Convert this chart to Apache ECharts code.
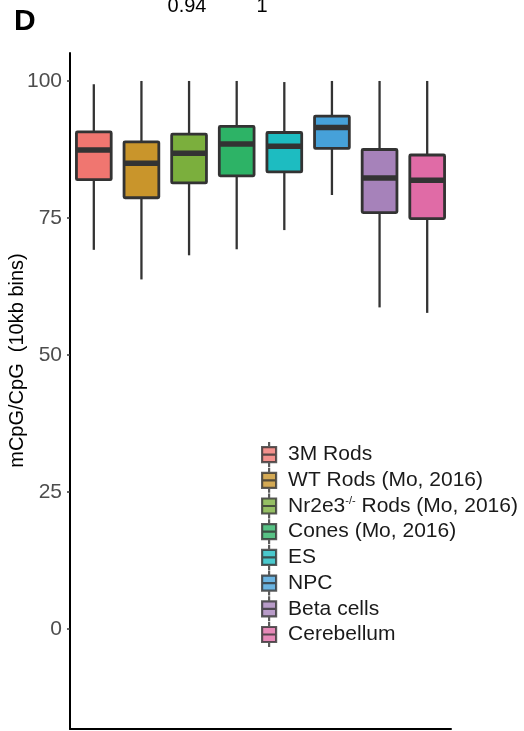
<!DOCTYPE html>
<html>
<head>
<meta charset="utf-8">
<script src="https://cdn.jsdelivr.net/npm/echarts@6/dist/echarts.min.js"></script>
<style>
html,body{margin:0;padding:0;background:#fff;}
#chart{width:524px;height:731px;}
</style>
</head>
<body>
<div id="chart"></div>
<script>
const categories = ['3M Rods', 'WT Rods (Mo, 2016)', 'Nr2e3-/- Rods (Mo, 2016)', 'Cones (Mo, 2016)', 'ES', 'NPC', 'Beta cells', 'Cerebellum'];
const whiskerLow  = [69.2, 63.8, 68.2, 69.3, 72.8, 79.2, 58.7, 57.7];
const q1          = [82.0, 78.7, 81.4, 82.7, 83.4, 87.7, 76.0, 74.9];
const median      = [87.4, 85.0, 86.8, 88.5, 88.1, 91.5, 82.3, 81.9];
const q3          = [90.7, 88.9, 90.3, 91.7, 90.6, 93.6, 87.5, 86.5];
const whiskerHigh = [99.4, 100, 100, 100, 99.8, 100, 100, 100];
const yTicks = [0, 25, 50, 75, 100];
const topLabels = ['0.94', '1'];
const panelLabel = 'D';
const yTitle = 'mCpG/CpG  (10kb bins)';

const colors = ['#F07670', '#C9952B', '#7BAF3D', '#2DB366', '#1DBCC1', '#46A1D9', '#A682BA', '#E06BA6'];
const FONT = 'Liberation Sans, Arial, Helvetica, sans-serif';

const boxData = categories.map((c, i) => [i, whiskerLow[i], q1[i], median[i], q3[i], whiskerHigh[i]]);

function renderItem(params, api) {
  const idx = api.value(0);
  const x = api.coord([idx, 0])[0];
  const bw = api.size([1, 0])[0] * 0.73;
  const yLo = api.coord([idx, api.value(1)])[1];
  const yQ1 = api.coord([idx, api.value(2)])[1];
  const yMed = api.coord([idx, api.value(3)])[1];
  const yQ3 = api.coord([idx, api.value(4)])[1];
  const yHi = api.coord([idx, api.value(5)])[1];
  return {
    type: 'group',
    children: [
      { type: 'line', shape: { x1: x, y1: yHi, x2: x, y2: yLo }, style: { stroke: '#333333', lineWidth: 2.3 } },
      { type: 'rect', shape: { x: x - bw / 2, y: yQ3, width: bw, height: yQ1 - yQ3, r: 1 },
        style: { fill: colors[idx], stroke: '#333333', lineWidth: 2.8 } },
      { type: 'line', shape: { x1: x - bw / 2, y1: yMed, x2: x + bw / 2, y2: yMed }, style: { stroke: '#333333', lineWidth: 5.5 } }
    ]
  };
}

const legendIcon = 'path://M8,0.5L8,5.5M1,5.5L15,5.5L15,20.5L1,20.5ZM1,13L15,13M8,20.5L8,25.5';

const option = {
  animation: false,
  backgroundColor: '#ffffff',
  textStyle: { fontFamily: FONT },
  grid: { left: 70, width: 381, top: 53, bottom: 2, containLabel: false },
  xAxis: {
    type: 'category',
    data: categories,
    boundaryGap: true,
    axisLine: { show: true, onZero: false, lineStyle: { color: '#000000', width: 2 } },
    axisTick: { show: false },
    axisLabel: { show: false },
    splitLine: { show: false }
  },
  yAxis: {
    type: 'value',
    min: -18.2,
    max: 105.1,
    axisLine: { show: true, onZero: false, lineStyle: { color: '#000000', width: 2 } },
    axisTick: { show: true, length: 3, customValues: yTicks, lineStyle: { color: '#333333', width: 1.5 } },
    axisLabel: { show: true, customValues: yTicks, margin: 8, fontSize: 21, color: '#4d4d4d', fontFamily: FONT },
    splitLine: { show: false }
  },
  legend: {
    orient: 'vertical',
    left: 261,
    top: 441,
    padding: 0,
    itemGap: -1.5,
    itemWidth: 14,
    itemHeight: 25.5,
    selectedMode: false,
    data: categories.map((c, i) => ({
      name: c,
      icon: legendIcon,
      itemStyle: { color: colors[i], borderColor: '#333333', borderWidth: 2.2 }
    })),
    formatter: function (name) {
      if (name === categories[2]) {
        return '{t|Nr2e3}{s|-/-}{t| Rods (Mo, 2016)}';
      }
      return '{t|' + name + '}';
    },
    textStyle: {
      fontSize: 21,
      color: '#1a1a1a',
      fontFamily: FONT,
      padding: [0, 0, 0, 7],
      rich: {
        t: { fontSize: 21, lineHeight: 22, color: '#1a1a1a', fontFamily: FONT },
        s: { fontSize: 11, lineHeight: 12, verticalAlign: 'top', color: '#1a1a1a', fontFamily: FONT }
      }
    }
  },
  graphic: [
    { type: 'text', left: 14, top: 7, style: { text: panelLabel, fontSize: 30, fontWeight: 'bold', fill: '#000', fontFamily: FONT } },
    { type: 'text', x: 187, y: 6, style: { text: topLabels[0], fontSize: 20, fill: '#000', align: 'center', verticalAlign: 'middle', fontFamily: FONT } },
    { type: 'text', x: 262, y: 6, style: { text: topLabels[1], fontSize: 20, fill: '#000', align: 'center', verticalAlign: 'middle', fontFamily: FONT } },
    { type: 'text', x: 17.5, y: 360.5, rotation: Math.PI / 2,
      style: { text: yTitle, fontSize: 20, fill: '#000', align: 'center', verticalAlign: 'middle', fontFamily: FONT } }
  ],
  series: [
    {
      type: 'custom',
      name: 'boxes',
      renderItem: renderItem,
      encode: { x: 0, y: [1, 2, 3, 4, 5] },
      data: boxData,
      z: 3
    }
  ].concat(categories.map((c, i) => ({
    type: 'scatter',
    name: c,
    data: [],
    itemStyle: { color: colors[i] }
  })))
};

const chart = echarts.init(document.getElementById('chart'), null, { renderer: 'canvas' });
chart.setOption(option);
</script>
</body>
</html>
